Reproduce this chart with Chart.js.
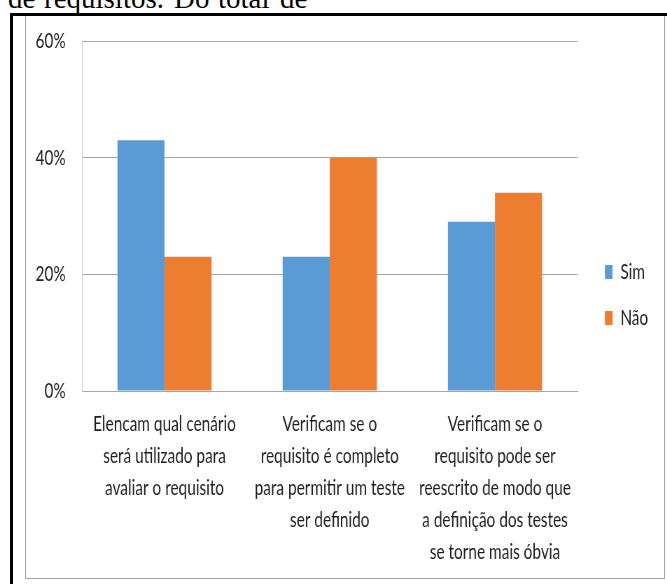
<!DOCTYPE html>
<html>
<head>
<meta charset="utf-8">
<script src="https://cdn.jsdelivr.net/npm/chart.js@4.4.0/dist/chart.umd.min.js"></script>
<style>
html, body { margin: 0; padding: 0; background: #fff; }
#page { position: relative; width: 667px; height: 584px; overflow: hidden; background: #fff; }
.word { position: absolute; top: -16px; font-family: 'Liberation Serif', 'Times New Roman', serif; font-size: 29px; line-height: 29px; color: #000; white-space: nowrap; }
#blackTop { position: absolute; left: 10px; top: 13px; width: 657px; height: 3px; background: #000; }
#blackLeft { position: absolute; left: 10px; top: 13px; width: 3px; height: 571px; background: #000; }
#frame { position: absolute; left: 25px; top: 16px; width: 638px; height: 562px; border: 1px solid #a6a6a6; border-top: none; }
#wrap { position: absolute; left: 0; top: 0; width: 953px; height: 584px; transform: scaleX(0.7); transform-origin: 0 0; }
</style>
</head>
<body>
<div id="page">
  <span class="word" style="left:8px">de</span>
  <span class="word" style="left:44px">requisitos.</span>
  <span class="word" style="left:174px">Do</span>
  <span class="word" style="left:218px">total</span>
  <span class="word" style="left:280px">de</span>
  <div id="blackTop"></div>
  <div id="blackLeft"></div>
  <div id="frame"></div>
  <div id="wrap"><canvas id="chart" width="953" height="584"></canvas></div>
</div>
<script>
// chart data
const categories = [
    ['Elencam qual cenário', 'será utilizado para', 'avaliar o requisito'],
    ['Verificam se o', 'requisito é completo', 'para permitir um teste', 'ser definido'],
    ['Verificam se o', 'requisito pode ser', 'reescrito de modo que', 'a definição dos testes', 'se torne mais óbvia']
];
const seriesNames = ['Sim', 'Não'];
const simValues = [43, 23, 29];
const naoValues = [23, 40, 34];
const yMax = 60;
const yStep = 20;

const textColor = '#1f1f1f';
Chart.defaults.font.family = 'Lato, "Open Sans", sans-serif';
Chart.defaults.font.size = 22;
Chart.defaults.color = textColor;

new Chart(document.getElementById('chart').getContext('2d'), {
    type: 'bar',
    data: {
        labels: categories,
        datasets: [{
            label: seriesNames[0],
            data: simValues,
            backgroundColor: '#5B9BD5',
            borderWidth: 0,
            categoryPercentage: 0.57,
            barPercentage: 1
        }, {
            label: seriesNames[1],
            data: naoValues,
            backgroundColor: '#ED7D31',
            borderWidth: 0,
            categoryPercentage: 0.57,
            barPercentage: 1
        }]
    },
    options: {
        responsive: false,
        animation: false,
        layout: { padding: { top: 41, bottom: 0, left: 0, right: 17 } },
        plugins: {
            legend: {
                position: 'right',
                align: 'start',
                // empty title only pushes the legend items down to the middle
                title: { display: true, text: '', font: { size: 12, lineHeight: 1 }, padding: { top: 184, bottom: 0 } },
                labels: { boxWidth: 11, boxHeight: 14, padding: 24, color: textColor, font: { size: 22 } }
            },
            tooltip: { enabled: false }
        },
        scales: {
            x: {
                grid: { display: false, drawTicks: false },
                border: { color: '#a6a6a6' },
                ticks: { padding: 17, maxRotation: 0, autoSkip: false, font: { size: 22, lineHeight: 1.45 } },
                afterFit: function(scale) { scale.height = 193; }
            },
            y: {
                min: 0,
                max: yMax,
                ticks: { stepSize: yStep, padding: 23, callback: v => v + '%' },
                grid: { color: '#a6a6a6', drawTicks: false },
                border: { color: '#c8c8c8' },
                afterFit: function(scale) { scale.width = 117; }
            },
            gap: {
                position: 'right',
                grid: { display: false },
                ticks: { display: false },
                border: { display: false },
                afterFit: function(scale) { scale.width = 15; }
            }
        }
    }
});
</script>
</body>
</html>
